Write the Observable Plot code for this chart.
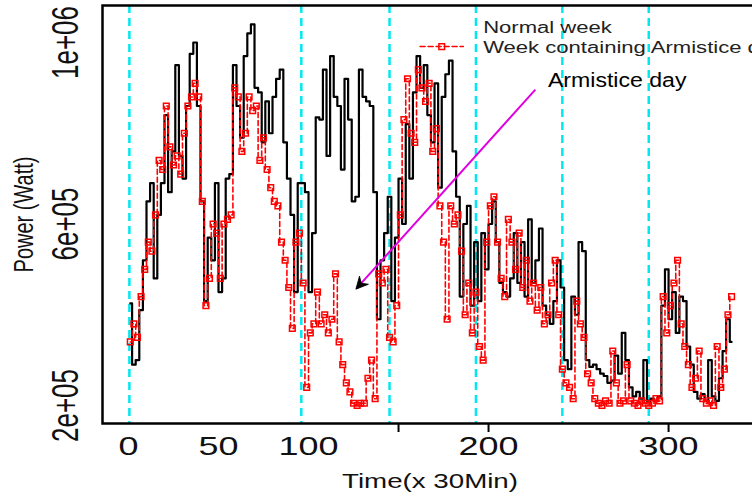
<!DOCTYPE html>
<html><head><meta charset="utf-8">
<script src="https://cdn.jsdelivr.net/npm/d3@7"></script>
<script src="https://cdn.jsdelivr.net/npm/@observablehq/plot@0.6"></script>
<style>
body{margin:0;background:#fff;}
#chart svg{display:block;font-family:"Liberation Sans",Arial,sans-serif;}
</style>
</head><body><div id="chart"></div>
<script>
// Power in kW (x1000 = Watt), one reading every 2 half-hour steps starting at t=1
const normalWeek = [
 425,290,300,410,520,650,690,480,620,690,840,670,
 760,950,750,700,860,975,1000,860,650,430,570,520,
 690,450,480,700,710,950,860,790,970,1020,1040,900,
 890,780,870,800,880,920,940,780,700,620,450,690,
 690,670,450,580,835,830,940,750,970,880,860,720,
 920,830,650,660,940,880,870,860,670,390,520,580,
 660,430,570,700,600,820,700,890,970,900,950,840,
 780,910,680,880,930,960,760,660,440,600,640,420,
 560,430,580,500,600,650,560,470,450,440,480,580,
 470,560,440,610,470,520,590,420,400,380,430,520,
 460,300,280,440,400,560,540,300,285,290,280,270,
 265,250,255,310,270,360,300,240,220,230,215,300,
 210,215,210,220,420,500,390,450,360,440,430,330,
 290,230,215,225,210,300,220,210,260,320,390,340
];
const armisticeWeek = [
 340,380,350,440,500,560,540,620,740,720,860,770,
 730,750,710,800,860,880,910,880,650,420,480,600,
 580,480,600,610,620,900,880,760,800,880,850,860,
 740,790,720,680,650,640,560,520,460,370,560,580,
 470,240,360,380,450,380,400,360,390,490,340,290,
 250,230,205,200,205,205,260,300,215,490,470,500,
 350,340,420,620,830,920,800,780,940,900,870,910,
 760,810,640,560,390,640,600,620,540,400,470,360,
 450,330,300,560,640,660,560,480,440,610,560,500,
 580,460,520,430,470,410,460,380,400,470,520,400,
 280,250,240,215,430,380,350,270,250,215,205,200,
 210,205,320,250,205,210,290,210,205,200,210,205,
 200,205,215,210,440,360,420,470,520,380,330,290,
 240,260,320,215,205,210,200,330,240,280,400,440
];
const timeStart = 1, timeStep = 2;
const dayBoundaries = [0.5, 96, 145, 193, 241, 289];
const yTicks = [200, 600, 1000];
const yTickLabels = ["2e+05", "6e+05", "1e+06"];
const xTickLabels = [0, 50, 100, 200, 300];
const xTickMarks = [150, 200, 300];
const xTitle = "Time(x 30Min)";
const yTitle = "Power (Watt)";
const seriesNames = ["Normal week", "Week containing Armistice day"];
const legendTextPos = [[197, 1033], [197, 989]];
const legendSample = [[162, 991], [186, 991]];
const annotationText = "Armistice day";
const annotationPos = [233, 916];
const arrowFrom = [226, 896];
const arrowTo = [126.7, 458];
const xDomain = [-14.44, 349.4];
const yDomain = [160.3, 1081.5];

const normalRows = normalWeek.map((v, i) => ({t: timeStart + i * timeStep, v}));
const armRows = armisticeWeek.map((v, i) => ({t: timeStart + i * timeStep, v}));

function blackArrowHead(color, context) {
  const m = d3.create("svg:marker")
    .attr("viewBox", "-12 -7 14 14")
    .attr("markerWidth", 14).attr("markerHeight", 14)
    .attr("markerUnits", "userSpaceOnUse")
    .attr("orient", "auto");
  m.append("path").attr("d", "M1,0L-11,-6L-7,0L-11,6Z").attr("fill", "black").attr("stroke", "black").attr("stroke-width", 0.8);
  return m.node();
}

const FONT = "Liberation Sans, Arial, sans-serif";

const plot = Plot.plot({
  width: 752, height: 498,
  marginLeft: 102, marginRight: -5, marginTop: 5, marginBottom: 75,
  x: {domain: xDomain},
  y: {domain: yDomain, axis: null},
  style: {fontFamily: FONT, background: "white"},
  marks: [
    Plot.ruleX(dayBoundaries, {x: d => d, stroke: "#00e8f0", strokeWidth: 2.5, strokeDasharray: "8,5"}),
    Plot.line(normalRows, {x: "t", y: "v", stroke: "black", strokeWidth: 2.2, curve: "step"}),
    Plot.line(armRows, {x: "t", y: "v", stroke: "#ff0000", strokeWidth: 1.6, strokeDasharray: "5,3", curve: "step"}),
    Plot.dot(armRows, {x: "t", y: "v", symbol: "square", r: 3.2, stroke: "#ff0000", strokeWidth: 1.5, fill: "none"}),
    Plot.frame({stroke: "black", strokeWidth: 2.5}),
    Plot.axisX({ticks: xTickMarks, tickFormat: () => "", tickSize: 9, strokeWidth: 2, label: null}),
    Plot.text(xTickLabels, {x: d => d, text: d => String(d), frameAnchor: "bottom", textAnchor: "middle", dy: 23, lineAnchor: "middle", fontSize: 25, fill: "#111", className: "xlab"}),
    Plot.text(yTicks, {y: d => d, text: (d, i) => yTickLabels[i], frameAnchor: "left", textAnchor: "middle", dx: -36, rotate: -90, lineAnchor: "middle", fontSize: 26, fill: "#111", className: "ylab"}),
    Plot.text([xTitle], {x: () => (xDomain[0] + xDomain[1]) / 2, text: d => d, frameAnchor: "bottom", textAnchor: "middle", dy: 58, lineAnchor: "middle", fontSize: 21, fill: "#111", className: "xtitle"}),
    Plot.text([yTitle], {y: () => (yDomain[0] + yDomain[1]) / 2, text: d => d, frameAnchor: "left", textAnchor: "middle", dx: -78, rotate: -90, lineAnchor: "middle", fontSize: 20, fill: "#111", className: "ytitle"}),
    Plot.line(legendSample, {x: d => d[0], y: d => d[1], stroke: "#ff0000", strokeWidth: 1.6, strokeDasharray: "5,3"}),
    Plot.dot([legendSample[0].map((c, j) => (c + legendSample[1][j]) / 2)], {x: d => d[0], y: d => d[1], symbol: "square", r: 3.2, stroke: "#ff0000", strokeWidth: 1.5, fill: "none"}),
    Plot.text(seriesNames, {x: (d, i) => legendTextPos[i][0], y: (d, i) => legendTextPos[i][1], text: d => d, textAnchor: "start", lineAnchor: "middle", fontSize: 16, fill: "#222", className: "legtext"}),
    Plot.link([0], {x1: arrowFrom[0], y1: arrowFrom[1], x2: arrowTo[0], y2: arrowTo[1], stroke: "#e000e0", strokeWidth: 2, markerEnd: blackArrowHead}),
    Plot.text([annotationText], {x: () => annotationPos[0], y: () => annotationPos[1], text: d => d, textAnchor: "start", lineAnchor: "middle", fontSize: 21, fill: "black", className: "annot"})
  ]
});
document.getElementById("chart").appendChild(plot);

// widen glyphs horizontally on screen, as in the reference's stretched rendering
function widen(cls, sx, sy) {
  d3.select(plot).selectAll(`.${cls} text`).each(function() {
    const tr = this.getAttribute("transform");
    if (tr && tr.includes("translate")) {
      this.setAttribute("transform", `${tr} scale(${sx},${sy})`);
    } else {
      const x = +(this.getAttribute("x") || 0), y = +(this.getAttribute("y") || 0);
      this.removeAttribute("x"); this.removeAttribute("y");
      this.setAttribute("transform", `translate(${x},${y}) ${tr || ""} scale(${sx},${sy})`);
    }
  });
}
widen("xlab", 1.44, 1);
widen("ylab", 1, 1.44);
widen("xtitle", 1.32, 1);
widen("ytitle", 1, 1.38);
widen("legtext", 1.38, 1);
widen("annot", 1.1, 1);
</script>
</body></html>
